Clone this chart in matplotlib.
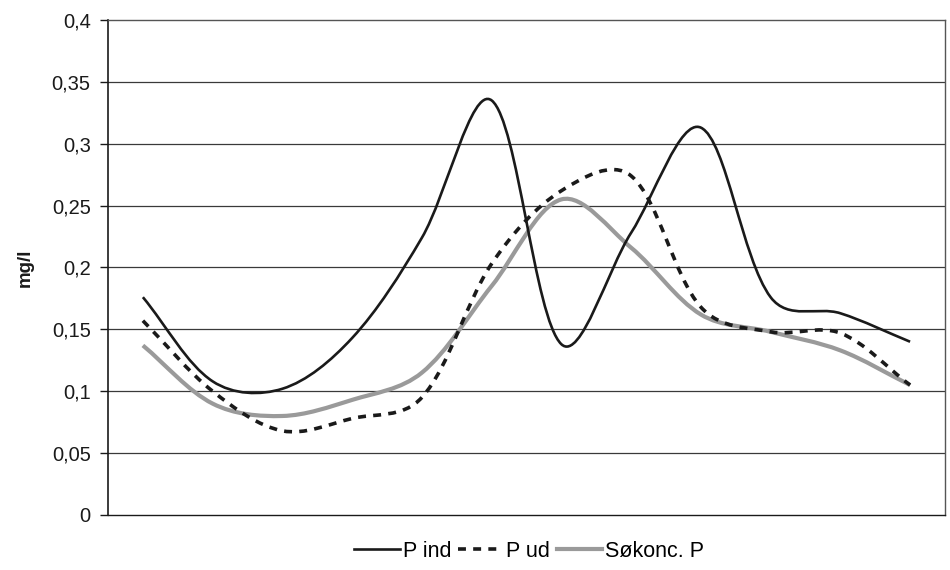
import numpy as np
import matplotlib
matplotlib.use("Agg")
import matplotlib.pyplot as plt
from matplotlib.path import Path
from matplotlib.patches import PathPatch
from matplotlib.lines import Line2D

plt.rcParams['font.family'] = ['Liberation Sans', 'DejaVu Sans']

# Monthly phosphorus concentrations (mg/l)
months = list(range(12))
p_ind = [0.176, 0.108, 0.102, 0.143, 0.224, 0.335, 0.138, 0.228, 0.313, 0.176, 0.163, 0.140]
p_ud = [0.157, 0.100, 0.068, 0.078, 0.095, 0.203, 0.262, 0.274, 0.168, 0.148, 0.147, 0.105]
sokonc_p = [0.137, 0.090, 0.080, 0.093, 0.115, 0.185, 0.255, 0.216, 0.162, 0.148, 0.133, 0.105]

y_ticks = [0, 0.05, 0.1, 0.15, 0.2, 0.25, 0.3, 0.35, 0.4]
y_tick_labels = ["0", "0,05", "0,1", "0,15", "0,2", "0,25", "0,3", "0,35", "0,4"]
series_names = ["P ind", "P ud", "Søkonc. P"]

fig = plt.figure(figsize=(9.5, 5.7), dpi=100)
ax = fig.add_axes([0.1137, 0.0965, 0.881, 0.8685])
ax.set_xlim(-0.5, 11.5)
ax.set_ylim(0, 0.4)


def smooth_path(xs, ys):
    """Bezier path through the points (centripetal handle lengths)."""
    pts = ax.transData.transform(np.column_stack([xs, ys]))
    n = len(pts)
    verts = [pts[0]]
    codes = [Path.MOVETO]
    for i in range(n - 1):
        p0 = pts[i - 1] if i > 0 else pts[i]
        p1 = pts[i]
        p2 = pts[i + 1]
        p3 = pts[i + 2] if i + 2 < n else pts[i + 1]
        d01 = np.sqrt(np.hypot(*(p1 - p0)))
        d12 = np.sqrt(np.hypot(*(p2 - p1)))
        d23 = np.sqrt(np.hypot(*(p3 - p2)))
        f1 = d12 / (3 * (d01 + d12)) if d01 > 0 else 1 / 3
        f2 = d12 / (3 * (d12 + d23)) if d23 > 0 else 1 / 3
        c1 = p1 + (p2 - p0) * f1
        c2 = p2 - (p3 - p1) * f2
        verts += [c1, c2, p2]
        codes += [Path.CURVE4] * 3
    inv = ax.transData.inverted()
    return Path(inv.transform(np.array(verts)), codes)


# horizontal grid
for t in y_ticks[1:-1]:
    ax.axhline(t, color="#3a3a3a", lw=0.9, zorder=1)

styles = [
    dict(color="#1a1a1a", lw=1.9, ls="-"),
    dict(color="#1a1a1a", lw=2.6, ls=(0, (2.2, 2.0))),
    dict(color="#9a9a9a", lw=3.0, ls="-"),
]

for ys, st, z in [(sokonc_p, styles[2], 3), (p_ud, styles[1], 4), (p_ind, styles[0], 5)]:
    patch = PathPatch(smooth_path(months, ys), facecolor="none", edgecolor=st["color"],
                      lw=st["lw"], linestyle=st["ls"], capstyle="butt", zorder=z)
    ax.add_patch(patch)

# frame
ax.spines["left"].set_color("#1a1a1a")
ax.spines["left"].set_linewidth(1.2)
ax.spines["bottom"].set_color("#1a1a1a")
ax.spines["bottom"].set_linewidth(1.0)
for s in ["top", "right"]:
    ax.spines[s].set_color("#555555")
    ax.spines[s].set_linewidth(1.0)
    ax.spines[s].set_linestyle((0, (1, 1)))

ax.set_yticks(y_ticks)
ax.set_yticklabels(y_tick_labels, fontsize=14.5, color="#1a1a1a")
ax.tick_params(axis="y", length=5.5, width=1.0, color="#1a1a1a", pad=7)
ax.set_xticks([])
ax.set_ylabel("mg/l", fontsize=13.5, fontweight="bold", labelpad=13, color="#1a1a1a")

handles = [Line2D([], [], color=st["color"], lw=st["lw"], ls=st["ls"]) for st in styles]
fig.legend(handles, series_names, loc="center", bbox_to_anchor=(0.557, 0.033), ncol=3,
           frameon=False, fontsize=15.5, handlelength=2.1, handletextpad=0.15,
           columnspacing=0.3)

fig.savefig("out.png", dpi=100, facecolor="white")
